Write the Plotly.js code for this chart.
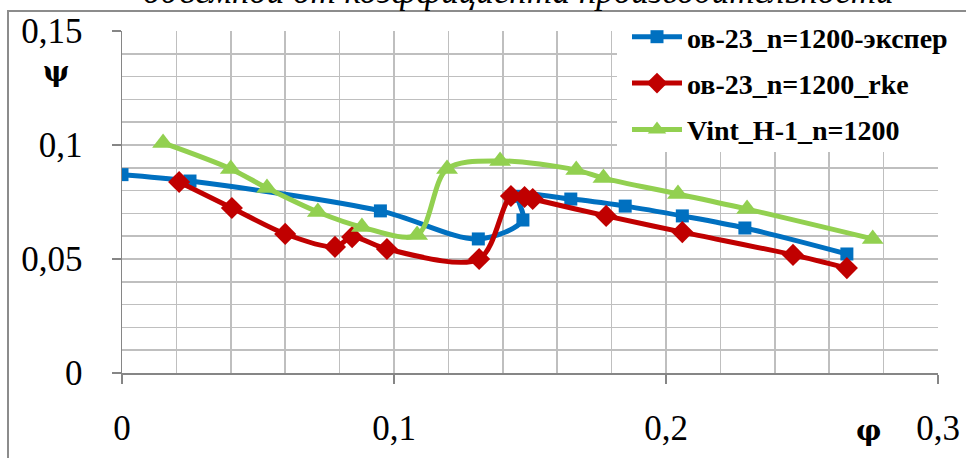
<!DOCTYPE html>
<html>
<head>
<meta charset="utf-8">
<script src="https://cdn.plot.ly/plotly-3.0.1.min.js"></script>
<style>html,body{margin:0;padding:0;background:#fff;}#chart{width:966px;height:458px;}</style>
</head>
<body>
<div id="chart"></div>
<script>
// ---- data ----
var names = ["ов-23_n=1200-экспер", "ов-23_n=1200_rke", "Vint_H-1_n=1200"];

var phiExp = [0, 0.025, 0.095, 0.131, 0.1474, 0.146, 0.165, 0.185, 0.206, 0.229, 0.2665];
var psiExp = [0.087, 0.0842, 0.0711, 0.0588, 0.0671, 0.0775, 0.0763, 0.0732, 0.0689, 0.0636, 0.0522];

var phiRke = [0.021, 0.0404, 0.060, 0.0783, 0.0846, 0.0974, 0.1313, 0.143, 0.148, 0.151, 0.178, 0.206, 0.2467, 0.2665];
var psiRke = [0.0838, 0.0724, 0.061, 0.0553, 0.0596, 0.0544, 0.050, 0.0776, 0.0772, 0.0763, 0.0689, 0.0618, 0.0518, 0.046];

var phiVint = [0.0151, 0.040, 0.0533, 0.072, 0.0882, 0.1085, 0.1195, 0.139, 0.167, 0.177, 0.2044, 0.2298, 0.276];
var psiVint = [0.1009, 0.0895, 0.0811, 0.0706, 0.064, 0.0605, 0.0895, 0.093, 0.089, 0.0855, 0.0785, 0.0719, 0.0588];

var xTicks = [0, 0.1, 0.2, 0.3];
var yTicks = [0, 0.05, 0.1, 0.15];
var titleText = "объемной от коэффициента производительности";

// ---- chart ----
var serif = "Liberation Serif, Times New Roman, serif";
function tr(x, y, name, color, symbol, size, grp) {
  return {
    x: x, y: y, name: name, type: "scatter", mode: "lines+markers",
    legendgroup: grp,
    line: {color: color, width: 5, shape: "spline", smoothing: 0.9},
    marker: {color: color, symbol: symbol, size: size}
  };
}
var data = [
  tr(phiExp, psiExp, names[0], "#0070C0", "square", 13, "a"),
  tr(phiRke, psiRke, names[1], "#C00000", "diamond", 17, "b"),
  tr(phiVint, psiVint, names[2], "#92D050", "triangle-up", 19, "c")
];

var gridC = "#BFBFBF";
var layout = {
  width: 966, height: 458,
  margin: {l: 122, r: 28, t: 31, b: 85, autoexpand: false},
  paper_bgcolor: "#fff", plot_bgcolor: "#fff",
  separators: ", ",
  showlegend: true,
  font: {family: serif, color: "#000"},
  xaxis: {
    range: [0, 0.3], tickvals: xTicks, ticks: "outside", ticklen: 9, tickcolor: "#868686", tickwidth: 1.5,
    showgrid: true, gridcolor: gridC, gridwidth: 1.5,
    minor: {dtick: 0.02, tick0: 0, showgrid: true, gridcolor: gridC, gridwidth: 1.5, ticks: ""},
    showline: true, linecolor: "#868686", linewidth: 1.5, zeroline: false, automargin: false,
    tickfont: {family: serif, size: 35, color: "#000"}, ticklabelstandoff: 14
  },
  yaxis: {
    range: [0, 0.15], tickvals: yTicks, ticks: "outside", ticklen: 9, tickcolor: "#868686", tickwidth: 1.5,
    showgrid: true, gridcolor: gridC, gridwidth: 1.5,
    minor: {dtick: 0.01, tick0: 0, showgrid: true, gridcolor: gridC, gridwidth: 1.5, ticks: ""},
    showline: true, linecolor: "#868686", linewidth: 1.5, zeroline: false, automargin: false,
    tickfont: {family: serif, size: 35, color: "#000"}, ticklabelstandoff: 22
  },
  legend: {
    xref: "container", yref: "container", x: 627 / 966, y: 1 - 12 / 458,
    xanchor: "left", yanchor: "top", bgcolor: "rgba(0,0,0,0)",
    font: {family: serif, size: 28, color: "#000", weight: "bold"},
    traceorder: "grouped", tracegroupgap: 7, itemwidth: 50
  },
  shapes: [
    {type: "rect", xref: "paper", yref: "paper", x0: (617 - 122) / 816, x1: (970 - 122) / 816,
     y0: (373 - 152) / 342, y1: (373 - 12) / 342, fillcolor: "#fff", line: {width: 0}, layer: "above"},
    {type: "rect", xref: "paper", yref: "paper", x0: (8 - 122) / 816, x1: 1.2,
     y0: -0.5, y1: (373 - 11) / 342, fillcolor: "rgba(0,0,0,0)", line: {color: "#8c8c8c", width: 2}, layer: "above"}
  ],
  annotations: [
    {xref: "paper", yref: "paper", x: (518 - 122) / 816, y: (373 + 9) / 342, xanchor: "center", yanchor: "middle",
     text: titleText, showarrow: false, font: {family: serif, size: 35, style: "italic", color: "#000"}},
    {xref: "paper", yref: "paper", x: (56 - 122) / 816, y: (373 - 72) / 342, xanchor: "center", yanchor: "middle",
     text: "<b>ψ</b>", showarrow: false, font: {family: "DejaVu Serif, serif", size: 28, color: "#000"}},
    {xref: "paper", yref: "paper", x: (868 - 122) / 816, y: (373 - 430) / 342, xanchor: "center", yanchor: "middle",
     text: "<b>φ</b>", showarrow: false, font: {family: "DejaVu Serif, serif", size: 28, color: "#000"}}
  ]
};
Plotly.newPlot("chart", data, layout, {displayModeBar: false, staticPlot: true});
</script>
</body>
</html>
